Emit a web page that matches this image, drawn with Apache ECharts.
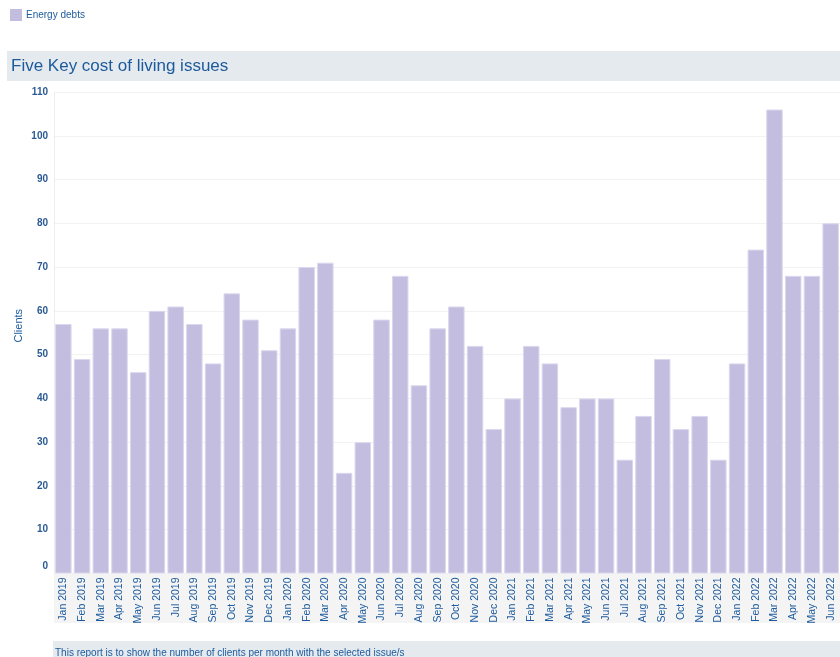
<!DOCTYPE html>
<html>
<head>
<meta charset="utf-8">
<script src="https://cdn.jsdelivr.net/npm/echarts@6/dist/echarts.min.js"></script>
<style>
  html, body { margin: 0; padding: 0; background: #ffffff; }
  #chart { width: 840px; height: 657px; }
</style>
</head>
<body>
<div id="chart"></div>
<script>
// Monthly clients presenting with energy debts
const months = [
  'Jan 2019','Feb 2019','Mar 2019','Apr 2019','May 2019','Jun 2019','Jul 2019','Aug 2019','Sep 2019','Oct 2019','Nov 2019','Dec 2019',
  'Jan 2020','Feb 2020','Mar 2020','Apr 2020','May 2020','Jun 2020','Jul 2020','Aug 2020','Sep 2020','Oct 2020','Nov 2020','Dec 2020',
  'Jan 2021','Feb 2021','Mar 2021','Apr 2021','May 2021','Jun 2021','Jul 2021','Aug 2021','Sep 2021','Oct 2021','Nov 2021','Dec 2021',
  'Jan 2022','Feb 2022','Mar 2022','Apr 2022','May 2022','Jun 2022'
];
const energyDebts = [
  57, 49, 56, 56, 46, 60, 61, 57, 48, 64, 58, 51,
  56, 70, 71, 23, 30, 58, 68, 43, 56, 61, 52, 33,
  40, 52, 48, 38, 40, 40, 26, 36, 49, 33, 36, 26,
  48, 74, 106, 68, 68, 80
];
const seriesName = 'Energy debts';
const chartTitle = 'Five Key cost of living issues';
const footNote = 'This report is to show the number of clients per month with the selected issue/s';
const yAxisName = 'Clients';

const FONT = '"Liberation Sans", Arial, sans-serif';
const BLUE = '#1c5a9c';

const chart = echarts.init(document.getElementById('chart'), null, { renderer: 'canvas' });

chart.setOption({
  animation: false,
  backgroundColor: '#ffffff',
  textStyle: { fontFamily: FONT },
  graphic: [
    // title band
    { type: 'rect', z: 0, shape: { x: 7, y: 51, width: 833, height: 30 }, style: { fill: '#e5eaef' } },
    { type: 'text', z: 1, x: 11, y: 66, style: { text: chartTitle, fill: BLUE, font: '17px ' + FONT, textVerticalAlign: 'middle' } },
    // category label band
    { type: 'rect', z: 0, shape: { x: 54, y: 574, width: 786, height: 49 }, style: { fill: '#f4f4f4' } },
    // footnote band
    { type: 'rect', z: 0, shape: { x: 53, y: 641, width: 787, height: 16 }, style: { fill: '#e5eaef' } },
    { type: 'text', z: 1, x: 55, y: 653, style: { text: footNote, fill: BLUE, font: '10px ' + FONT, textVerticalAlign: 'middle' } }
  ],
  legend: {
    left: 5, top: 4,
    itemWidth: 12, itemHeight: 12, itemGap: 10,
    icon: 'rect',
    itemStyle: { borderWidth: 0 },
    textStyle: { color: BLUE, fontSize: 10, fontFamily: FONT, padding: [0, 0, 0, -1] },
    data: [seriesName]
  },
  grid: { left: 54, top: 92, width: 786, height: 481.5, containLabel: false, outerBoundsMode: 'none' },
  xAxis: {
    type: 'category',
    data: months,
    axisLine: { show: false },
    axisTick: { show: false },
    axisLabel: {
      rotate: 90, interval: 0, margin: 4,
      color: BLUE, fontSize: 10.5, fontFamily: FONT
    }
  },
  yAxis: {
    type: 'value',
    min: 0, max: 110, interval: 10,
    name: yAxisName,
    nameLocation: 'middle',
    nameGap: 30,
    nameRotate: 90,
    nameMoveOverlap: false,
    nameTextStyle: { color: BLUE, fontSize: 11, fontFamily: FONT, padding: [0, 0, 0, 14] },
    axisLine: { show: true, lineStyle: { color: '#eeeeee' } },
    axisTick: { show: false },
    axisLabel: {
      color: '#2b5a93', fontSize: 10, fontWeight: 'bold', fontFamily: FONT, margin: 6,
      formatter: function (v) { return v === 0 ? '{z|0}' : String(v); },
      rich: { z: { color: '#2b5a93', fontSize: 10, fontWeight: 'bold', fontFamily: FONT, padding: [0, 0, 14, 0] } }
    },
    splitLine: { show: true, lineStyle: { color: '#f2f2f2', width: 1 } }
  },
  series: [{
    name: seriesName,
    type: 'bar',
    data: energyDebts,
    barCategoryGap: '12%',
    itemStyle: { color: '#c3bddf', borderColor: '#dcd7ee', borderWidth: 1 }
  }]
});
</script>
</body>
</html>
